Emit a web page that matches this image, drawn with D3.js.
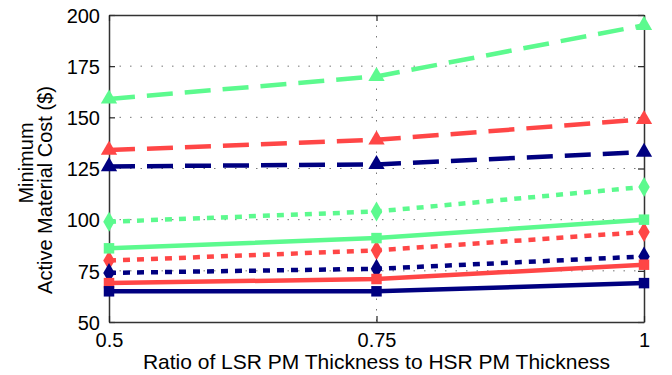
<!DOCTYPE html>
<html>
<head>
<meta charset="utf-8">
<script src="https://cdn.jsdelivr.net/npm/d3@7"></script>
<style>
  body { margin: 0; background: #fff; }
  text { font-family: "Liberation Sans", Arial, sans-serif; fill: #000; }
</style>
</head>
<body>
<div id="chart"></div>
<script>
// chart data
var ratios = [0.5, 0.75, 1];
var yTicks = [50, 75, 100, 125, 150, 175, 200];
var xTickLabels = ["0.5", "0.75", "1"];

var greenDashed = [159, 170, 195];
var redDashed = [134, 139, 149];
var navyDashed = [126, 127, 133];
var greenDotted = [99, 104, 116];
var redDotted = [80, 85, 94];
var navyDotted = [74, 76, 82];
var greenSolid = [86, 91, 100];
var redSolid = [69, 71, 78];
var navySolid = [65, 65, 69];

var green = "#5cfa8e", red = "#ff4646", navy = "#000080";

var series = [
  { values: greenDashed, color: green, dash: "26,12", marker: "triangle" },
  { values: redDashed, color: red, dash: "26,12", marker: "triangle" },
  { values: navyDashed, color: navy, dash: "26,12", marker: "triangle" },
  { values: greenDotted, color: green, dash: "7,7", marker: "diamond" },
  { values: redDotted, color: red, dash: "7,7", marker: "diamond" },
  { values: navyDotted, color: navy, dash: "7,7", marker: "diamond" },
  { values: greenSolid, color: green, dash: null, marker: "square" },
  { values: redSolid, color: red, dash: null, marker: "square" },
  { values: navySolid, color: navy, dash: null, marker: "square" }
];

var width = 672, height = 375;
var margin = { top: 15, right: 28, bottom: 53, left: 109 };

var svg = d3.select("#chart")
  .append("svg")
  .attr("width", width)
  .attr("height", height);

var x = d3.scaleLinear()
  .domain([0.5, 1])
  .range([margin.left, width - margin.right]);

var y = d3.scaleLinear()
  .domain([50, 200])
  .range([height - margin.bottom, margin.top]);

// dotted grid
var grid = svg.append("g");
grid.selectAll(".hgrid")
  .data(yTicks.slice(1, -1))
  .enter()
  .append("line")
  .attr("x1", x(0.5)).attr("x2", x(1))
  .attr("y1", function(d) { return y(d); })
  .attr("y2", function(d) { return y(d); })
  .style("stroke", "#777")
  .style("stroke-width", 1)
  .style("stroke-dasharray", "1.5,9");
grid.selectAll(".vgrid")
  .data([0.75])
  .enter()
  .append("line")
  .attr("x1", function(d) { return x(d); })
  .attr("x2", function(d) { return x(d); })
  .attr("y1", y(200)).attr("y2", y(50))
  .style("stroke", "#777")
  .style("stroke-width", 1)
  .style("stroke-dasharray", "1.5,9");

// axes, ticks inward on all four sides
var tickLen = 6;
var leftAxis = d3.axisLeft(y).tickValues(yTicks).tickSizeInner(-tickLen).tickSizeOuter(0).tickPadding(9);
var rightAxis = d3.axisRight(y).tickValues(yTicks).tickSizeInner(-tickLen).tickSizeOuter(0).tickFormat("");
var bottomAxis = d3.axisBottom(x).tickValues(ratios).tickSizeInner(-tickLen).tickSizeOuter(0).tickPadding(11)
  .tickFormat(function(d) { return xTickLabels[ratios.indexOf(d)]; });
var topAxis = d3.axisTop(x).tickValues(ratios).tickSizeInner(-tickLen).tickSizeOuter(0).tickFormat("");

var gl = svg.append("g").attr("transform", "translate(" + x(0.5) + ",0)").call(leftAxis);
var gr = svg.append("g").attr("transform", "translate(" + x(1) + ",0)").call(rightAxis);
var gb = svg.append("g").attr("transform", "translate(0," + y(50) + ")").call(bottomAxis);
var gt = svg.append("g").attr("transform", "translate(0," + y(200) + ")").call(topAxis);

[gl, gr, gb, gt].forEach(function(g) {
  g.select(".domain").style("stroke", "#333").style("stroke-width", 1.5);
  g.selectAll(".tick line").style("stroke", "#222").style("stroke-width", 1.2);
  g.selectAll(".tick text").style("font-size", "20px").style("font-family", "Liberation Sans, Arial, sans-serif").attr("fill", "#000");
});
gl.selectAll(".tick text").attr("dy", "0.36em");

// lines
var line = d3.line()
  .x(function(d, i) { return x(ratios[i]); })
  .y(function(d) { return y(d); });

var symbolType = { triangle: d3.symbolTriangle, diamond: d3.symbolDiamond, square: d3.symbolSquare };
var symbolSize = { triangle: 115, diamond: 115, square: 110 };

series.forEach(function(s) {
  svg.append("path")
    .datum(s.values)
    .attr("d", line)
    .style("fill", "none")
    .style("stroke", s.color)
    .style("stroke-width", 4.5)
    .style("stroke-dasharray", s.dash);

  svg.selectAll(null)
    .data(s.values)
    .enter()
    .append("path")
    .attr("transform", function(d, i) { return "translate(" + x(ratios[i]) + "," + y(d) + ")"; })
    .attr("d", d3.symbol().type(symbolType[s.marker]).size(symbolSize[s.marker]))
    .style("fill", s.color);
});

// axis labels
svg.append("text")
  .attr("text-anchor", "middle")
  .attr("x", x(0.75))
  .attr("y", 369)
  .style("font-size", "21px")
  .text("Ratio of LSR PM Thickness to HSR PM Thickness");

var ylab = svg.append("text")
  .attr("text-anchor", "middle")
  .attr("transform", "rotate(-90)")
  .style("font-size", "20px");
ylab.append("tspan").attr("x", -163).attr("y", 33).text("Minimum");
ylab.append("tspan").attr("x", -190).attr("y", 52).text("Active Material Cost ($)");
</script>
</body>
</html>
